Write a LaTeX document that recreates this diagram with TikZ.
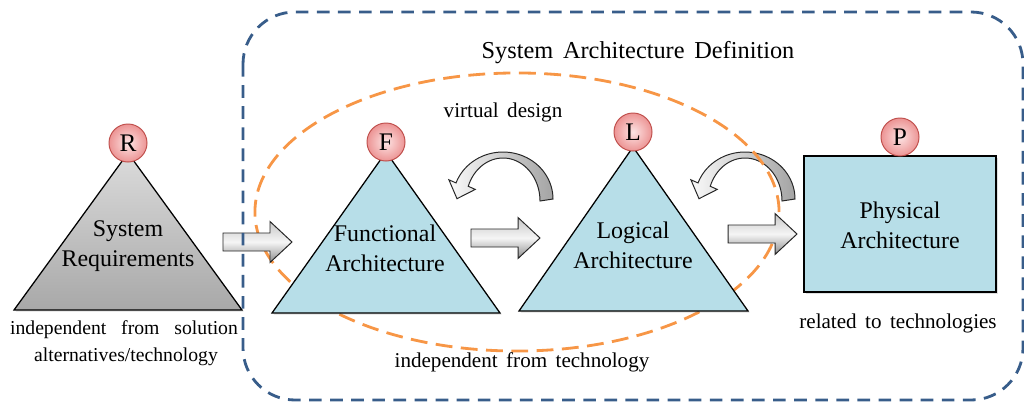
\documentclass[tikz,border=0pt]{standalone}
\usepackage{fontspec}
\setmainfont{Liberation Serif}[WordSpace=1.6]
\usetikzlibrary{shadows,calc}

\definecolor{archblue}{RGB}{183,222,232}
\definecolor{frameblue}{RGB}{56,93,138}
\definecolor{looporange}{RGB}{247,150,70}
\definecolor{badgeedge}{RGB}{192,80,77}
\definecolor{badgein}{RGB}{253,228,228}
\definecolor{badgeout}{RGB}{236,148,148}

\tikzset{
  stage/.style={draw=black, line width=0.9pt, line join=miter,
    drop shadow={opacity=0.25, shadow xshift=1.2pt, shadow yshift=-1.2pt}},
  bluestage/.style={stage, fill=archblue},
  graystage/.style={stage, top color=black!14, bottom color=black!34},
  badge/.style={circle, minimum size=0.95cm, inner sep=0pt, draw=badgeedge,
    line width=0.7pt, inner color=badgein, outer color=badgeout,
    font=\fontsize{18}{20}\selectfont},
  stagetext/.style={align=center, font=\fontsize{17}{21.5}\selectfont},
  note/.style={font=\fontsize{15}{18}\selectfont},
  smallnote/.style={font=\fontsize{14}{17}\selectfont},
  titletext/.style={font=\fontsize{17.3}{20}\selectfont},
  flow/.style={draw=black!85, line width=0.7pt, line join=miter,
    top color=black!22, bottom color=black!45, middle color=black!4},
  turnstyle/.style={draw=black!85, line width=0.7pt, line join=miter,
    left color=black!2, right color=black!36},
  frame/.style={draw=frameblue, line width=2pt, dash pattern=on 9pt off 6pt,
    rounded corners=1.3cm},
  loop/.style={draw=looporange, line width=2pt, dash pattern=on 12pt off 6pt},
  pics/turnback/.style={code={
    \begin{scope}[yscale=-1]
      \path[turnstyle] (50,0)
        -- plot[domain=0:160, samples=40] ({50*cos(\x)}, {47*sin(\x)})
        -- (-54.1,19.2) -- (-46.0,0.3) -- (-27.7,9.6)
        -- plot[domain=160:0, samples=40] ({37*cos(\x)}, {-2+43*sin(\x)})
        -- cycle;
    \end{scope}
  }}
}

% block arrow from a named tail coordinate, pointing right
\newcommand\flowarrow[1]{%
  \path[flow] ($(#1)+(0,-9)$) -- ($(#1)+(47,-9)$) -- ($(#1)+(47,-20.5)$)
    -- ($(#1)+(69,0)$) -- ($(#1)+(47,20.5)$) -- ($(#1)+(47,9)$)
    -- ($(#1)+(0,9)$) -- cycle;}

\begin{document}
\begin{tikzpicture}[x=0.025cm, y=-0.025cm]
\useasboundingbox (0,0) rectangle (1024,408);

% anchor points
\coordinate (Rtop) at (128,153);
\coordinate (Ftop) at (386,152);
\coordinate (Ltop) at (633,147);
\coordinate (loopc) at (517,212);
\coordinate (turn1) at (503,199);
\coordinate (turn2) at (745,199);
\coordinate (a1) at (223,242);
\coordinate (a2) at (471,238);
\coordinate (a3) at (728,234);

% feedback arrows and the virtual design loop
\pic at (turn1) {turnback};
\pic at (turn2) {turnback};
\draw[loop] (loopc) ellipse [x radius=6.55cm, y radius=3.475cm];

% stages
\path[graystage] (Rtop) -- (242,310) -- (14,310) -- cycle;
\path[bluestage] (Ftop) -- (500,313) -- (272,313) -- cycle;
\path[bluestage] (Ltop) -- (748,311) -- (519,311) -- cycle;
\path[bluestage] (804,156) rectangle (996,292);

% transitions
\flowarrow{a1}
\flowarrow{a2}
\flowarrow{a3}

% stage badges
\node[badge] (R) at (128,143) {R};
\node[badge] (F) at (386,142) {F};
\node[badge] (L) at (633,132) {L};
\node[badge] (P) at (900,137) {P};

% stage names
\node[stagetext] (req) at (128,246) {System\\Requirements};
\node[stagetext] (fun) at (385,248) {Functional\\Architecture};
\node[stagetext] (log) at (633,245) {Logical\\Architecture};
\node[stagetext] (phy) at (900,225) {Physical\\Architecture};

% annotations
\node[titletext] (sad) at (638,53) {System Architecture Definition};
\node[note] (virt) at (503,112) {virtual design};
\node[note] (indep) at (522,362) {independent from technology};
\node[note] (rel) at (898,323) {related to technologies};
\node[smallnote] (sol1) at (124,330) {\makebox[162pt][s]{independent from solution}};
\node[smallnote] (sol2) at (126,357) {alternatives/technology};

% system architecture boundary
\draw[frame] (243,12) rectangle (1023,400);
\end{tikzpicture}
\end{document}
